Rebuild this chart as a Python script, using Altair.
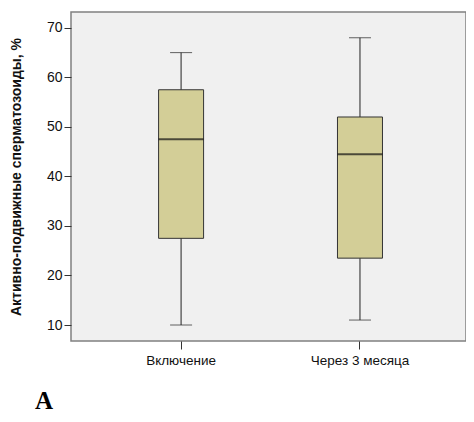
import altair as alt
import pandas as pd

categories = ["Включение", "Через 3 месяца"]
mins = [10, 11]
q1s = [27.5, 23.5]
medians = [47.5, 44.5]
q3s = [57.5, 52]
maxs = [65, 68]

df = pd.DataFrame({"cat": categories, "lo": mins, "q1": q1s, "med": medians, "q3": q3s, "hi": maxs})

FONT = "Liberation Sans"
xenc = alt.X("cat:N", sort=categories, title=None,
             scale=alt.Scale(paddingInner=0.5, paddingOuter=0.354, align=0.516),
             axis=alt.Axis(labelAngle=0, domain=False, tickSize=8, tickColor="#333333",
                           labelFont=FONT, labelFontSize=13.5, labelColor="#111111", labelPadding=4))
yscale = alt.Scale(domain=[6.77, 73.2], nice=False, zero=False)
yaxis = alt.Axis(values=[10, 20, 30, 40, 50, 60, 70], domain=False, grid=False, tickSize=7,
                 tickColor="#333333", labelFont=FONT, labelFontSize=14, labelColor="#111111",
                 labelPadding=2, title="Активно-подвижные сперматозоиды, %",
                 titleFont=FONT, titleFontSize=14, titleFontWeight="bold", titleColor="#111111",
                 titlePadding=23)

base = alt.Chart(df)
whisker = base.mark_rule(color="#222222", strokeWidth=1).encode(
    x=xenc, y=alt.Y("lo:Q", scale=yscale, axis=yaxis), y2="hi:Q")
box = base.mark_bar(size=45, color="#D3CE97", stroke="#333333", strokeWidth=1).encode(
    x=xenc, y=alt.Y("q1:Q", scale=yscale), y2="q3:Q")
med = base.mark_tick(size=45, thickness=2, color="#111111").encode(
    x=xenc, y=alt.Y("med:Q", scale=yscale))
caplo = base.mark_tick(size=22, thickness=1, color="#222222").encode(
    x=xenc, y=alt.Y("lo:Q", scale=yscale))
caphi = base.mark_tick(size=22, thickness=1, color="#222222").encode(
    x=xenc, y=alt.Y("hi:Q", scale=yscale))
label = alt.Chart(pd.DataFrame({"t": ["A"]})).mark_text(
    font="Liberation Serif", fontSize=25, fontWeight="bold", color="#000000",
    align="left", baseline="alphabetic").encode(
    text="t:N", x=alt.value(-36), y=alt.value(397))

chart = alt.layer(whisker, box, med, caplo, caphi, label).properties(
    width=395, height=329,
    autosize=alt.AutoSizeParams(type="none"),
    padding={"left": 63, "top": 4, "right": 0, "bottom": 72},
    background="#FFFFFF",
).configure_view(fill="#F0F0F0", stroke="#808080", strokeWidth=1.5)

chart.save("out.html", embed_options={"renderer": "svg", "actions": False})
